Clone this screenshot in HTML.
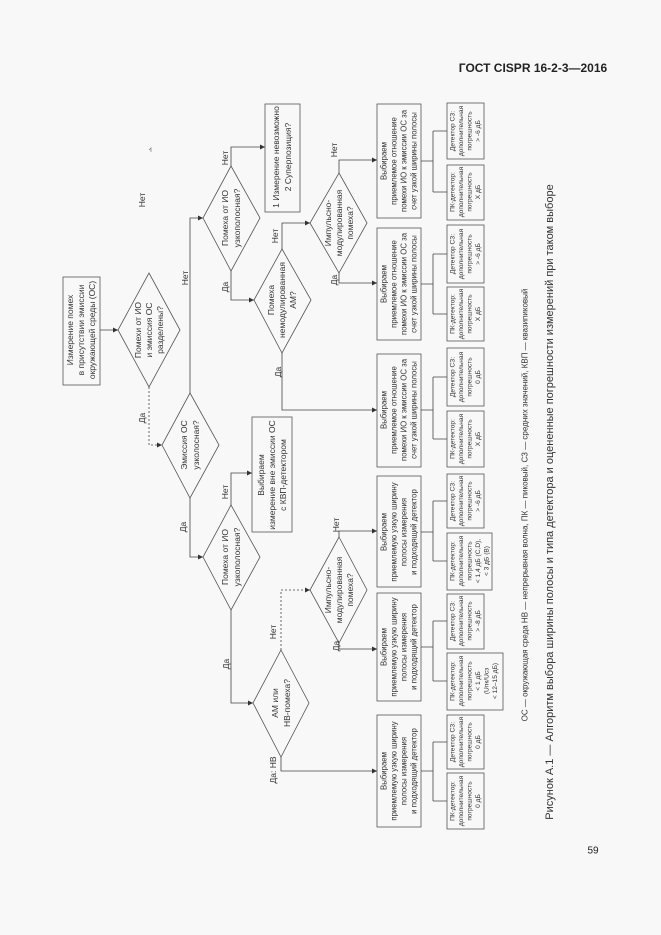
<!DOCTYPE html>
<html><head><meta charset="utf-8"><style>
html,body{margin:0;padding:0;background:#f8f8f8;}
svg{display:block}
text{font-family:"Liberation Sans",sans-serif;fill:#333;text-anchor:middle;dominant-baseline:central}
.t{font-size:8.5px}
.s{font-size:6.6px}
.l{font-size:8.5px}
</style></head><body>
<svg width="661" height="935" viewBox="0 0 661 935" xmlns="http://www.w3.org/2000/svg">
<defs><marker id="a" markerWidth="6" markerHeight="6" refX="5" refY="3" orient="auto" markerUnits="userSpaceOnUse"><path d="M0,0.5 L5,3 L0,5.5z" fill="#333"/></marker></defs>
<text x="533" y="68" style="font-size:12px;font-weight:bold;fill:#222">ГОСТ CISPR 16-2-3—2016</text>
<text x="593" y="851" style="font-size:10px;fill:#222">59</text>

<g fill="none" stroke="#555" stroke-width="0.8">
<rect x="63" y="277" width="37" height="108"/>
<rect x="265" y="104" width="35" height="108"/>
<rect x="252" y="417" width="40" height="115"/>
<rect x="377" y="104" width="44" height="114"/>
<rect x="377" y="228" width="44" height="112"/>
<rect x="377" y="354" width="44" height="113"/>
<rect x="377" y="476" width="44" height="111"/>
<rect x="377" y="593" width="44" height="108"/>
<rect x="377" y="715" width="44" height="112"/>
<rect x="447" y="103" width="37" height="56"/><rect x="447" y="165" width="37" height="55"/>
<rect x="447" y="225" width="37" height="58"/><rect x="447" y="287" width="37" height="54"/>
<rect x="447" y="348" width="37" height="58"/><rect x="447" y="411" width="37" height="56"/>
<rect x="447" y="474" width="37" height="54"/><rect x="447" y="533" width="45" height="57"/>
<rect x="447" y="594" width="37" height="55"/><rect x="447" y="653" width="56" height="57"/>
<rect x="447" y="715" width="37" height="54"/><rect x="447" y="773" width="37" height="56"/>
<path d="M149,273 L180,330 L149,387 L118,330z"/>
<path d="M190,393 L219,445 L190,498 L162,445z"/>
<path d="M231,166 L260,218 L231,271 L203,218z"/>
<path d="M282,249 L311,300 L282,353 L254,300z"/>
<path d="M339,173 L367,223 L339,273 L310,223z"/>
<path d="M231,505 L260,557 L231,610 L203,557z"/>
<path d="M281,650 L309,703 L281,757 L253,703z"/>
<path d="M339,537 L367,590 L339,643 L310,590z"/>
</g>

<g fill="none" stroke="#444" stroke-width="0.8">
<path d="M100,330 L118,330" marker-end="url(#a)"/>
<path d="M149,387 L149,445 L162,445" marker-end="url(#a)" stroke-dasharray="2,2"/>
<path d="M149,150 L151,148 L151,152" stroke="#888"/>
<path d="M190,393 L190,218 L203,218" marker-end="url(#a)"/>
<path d="M231,166 L231,147 L265,147" marker-end="url(#a)"/>
<path d="M231,271 L231,300 L254,300" marker-end="url(#a)"/>
<path d="M282,249 L282,223 L310,223" marker-end="url(#a)"/>
<path d="M339,173 L339,160 L377,160" marker-end="url(#a)"/>
<path d="M339,273 L339,283 L377,283" marker-end="url(#a)"/>
<path d="M282,353 L282,410 L377,410" marker-end="url(#a)"/>
<path d="M190,498 L190,557 L203,557" marker-end="url(#a)"/>
<path d="M231,505 L231,473 L252,473" marker-end="url(#a)"/>
<path d="M231,610 L231,703 L253,703" marker-end="url(#a)"/>
<path d="M281,650 L281,590 L310,590" marker-end="url(#a)" stroke-dasharray="2,2"/>
<path d="M339,537 L339,531 L377,531" marker-end="url(#a)"/>
<path d="M339,643 L339,649 L377,649" marker-end="url(#a)"/>
<path d="M281,757 L281,771 L377,771" marker-end="url(#a)"/>
<path d="M421,161 L433,161 M433,131 L433,192 M433,131 L447,131 M433,192 L447,192"/>
<path d="M421,284 L433,284 M433,254 L433,314 M433,254 L447,254 M433,314 L447,314"/>
<path d="M421,410 L433,410 M433,377 L433,439 M433,377 L447,377 M433,439 L447,439"/>
<path d="M421,532 L433,532 M433,501 L433,561 M433,501 L447,501 M433,561 L447,561"/>
<path d="M421,647 L433,647 M433,621 L433,681 M433,621 L447,621 M433,681 L447,681"/>
<path d="M421,771 L433,771 M433,742 L433,801 M433,742 L447,742 M433,801 L447,801"/>
</g>

<g class="t">
<text x="70" y="330" transform="rotate(-90 70 330)">Измерение помех</text>
<text x="81" y="330" transform="rotate(-90 81 330)">в присутствии эмиссии</text>
<text x="92" y="330" transform="rotate(-90 92 330)">окружающей среды (ОС)</text>
<text x="138" y="330" transform="rotate(-90 138 330)">Помехи от ИО</text>
<text x="149" y="330" transform="rotate(-90 149 330)">и эмиссия  ОС</text>
<text x="160" y="330" transform="rotate(-90 160 330)">разделены?</text>
<text x="184" y="445" transform="rotate(-90 184 445)">Эмиссия ОС</text>
<text x="196" y="445" transform="rotate(-90 196 445)">узколосная?</text>
<text x="225" y="218" transform="rotate(-90 225 218)">Помеха от ИО</text>
<text x="237" y="218" transform="rotate(-90 237 218)">узкополосная?</text>
<text x="271" y="300" transform="rotate(-90 271 300)">Помеха</text>
<text x="282" y="300" transform="rotate(-90 282 300)">немодулированная</text>
<text x="293" y="300" transform="rotate(-90 293 300)">АМ?</text>
<text x="328" y="223" transform="rotate(-90 328 223)">Импульсно-</text>
<text x="339" y="223" transform="rotate(-90 339 223)">модулированная</text>
<text x="350" y="223" transform="rotate(-90 350 223)">помеха?</text>
<text x="276" y="157" transform="rotate(-90 276 157)">1 Измерение невозможно</text>
<text x="288" y="157" transform="rotate(-90 288 157)">2 Суперпозиция?</text>
<text x="261" y="475" transform="rotate(-90 261 475)">Выбираем</text>
<text x="272" y="475" transform="rotate(-90 272 475)">измерение вне эмиссии ОС</text>
<text x="283" y="475" transform="rotate(-90 283 475)">с КВП-детектором</text>
<text x="225" y="557" transform="rotate(-90 225 557)">Помеха от ИО</text>
<text x="237" y="557" transform="rotate(-90 237 557)">узкополосная?</text>
<text x="275" y="703" transform="rotate(-90 275 703)">АМ или</text>
<text x="287" y="703" transform="rotate(-90 287 703)">НВ-помеха?</text>
<text x="328" y="590" transform="rotate(-90 328 590)">Импульсно-</text>
<text x="339" y="590" transform="rotate(-90 339 590)">модулированная</text>
<text x="350" y="590" transform="rotate(-90 350 590)">помеха?</text>
</g>

<g class="t" style="font-size:7.8px">
<text x="384" y="161" transform="rotate(-90 384 161)">Выбираем</text>
<text x="394" y="161" transform="rotate(-90 394 161)">приемлемое отношение</text>
<text x="404" y="161" transform="rotate(-90 404 161)">помехи ИО к эмиссии ОС за</text>
<text x="414" y="161" transform="rotate(-90 414 161)">счет узкой ширины полосы</text>
<text x="384" y="284" transform="rotate(-90 384 284)">Выбираем</text>
<text x="394" y="284" transform="rotate(-90 394 284)">приемлемое отношение</text>
<text x="404" y="284" transform="rotate(-90 404 284)">помехи ИО к эмиссии ОС за</text>
<text x="414" y="284" transform="rotate(-90 414 284)">счет узкой ширины полосы</text>
<text x="384" y="410" transform="rotate(-90 384 410)">Выбираем</text>
<text x="394" y="410" transform="rotate(-90 394 410)">приемлемое отношение</text>
<text x="404" y="410" transform="rotate(-90 404 410)">помехи ИО к эмиссии ОС за</text>
<text x="414" y="410" transform="rotate(-90 414 410)">счет узкой ширины полосы</text>
<text x="384" y="532" transform="rotate(-90 384 532)">Выбираем</text>
<text x="394" y="532" transform="rotate(-90 394 532)">приемлемую узкую ширину</text>
<text x="404" y="532" transform="rotate(-90 404 532)">полосы измерения</text>
<text x="414" y="532" transform="rotate(-90 414 532)">и подходящий детектор</text>
<text x="384" y="647" transform="rotate(-90 384 647)">Выбираем</text>
<text x="394" y="647" transform="rotate(-90 394 647)">приемлемую узкую ширину</text>
<text x="404" y="647" transform="rotate(-90 404 647)">полосы измерения</text>
<text x="414" y="647" transform="rotate(-90 414 647)">и подходящий детектор</text>
<text x="384" y="771" transform="rotate(-90 384 771)">Выбираем</text>
<text x="394" y="771" transform="rotate(-90 394 771)">приемлемую узкую ширину</text>
<text x="404" y="771" transform="rotate(-90 404 771)">полосы измерения</text>
<text x="414" y="771" transform="rotate(-90 414 771)">и подходящий детектор</text>
</g>

<g class="s">
<text x="453" y="131" transform="rotate(-90 453 131)">Детектор СЗ:</text>
<text x="461.5" y="131" transform="rotate(-90 461.5 131)">дополнительная</text>
<text x="470" y="131" transform="rotate(-90 470 131)">погрешность</text>
<text x="478.5" y="131" transform="rotate(-90 478.5 131)">&gt; -6 дБ</text>
<text x="453" y="192" transform="rotate(-90 453 192)">ПК-детектор:</text>
<text x="461.5" y="192" transform="rotate(-90 461.5 192)">дополнительная</text>
<text x="470" y="192" transform="rotate(-90 470 192)">погрешность</text>
<text x="478.5" y="192" transform="rotate(-90 478.5 192)">X дБ</text>
<text x="453" y="254" transform="rotate(-90 453 254)">Детектор СЗ:</text>
<text x="461.5" y="254" transform="rotate(-90 461.5 254)">дополнительная</text>
<text x="470" y="254" transform="rotate(-90 470 254)">погрешность</text>
<text x="478.5" y="254" transform="rotate(-90 478.5 254)">&gt; -6 дБ</text>
<text x="453" y="314" transform="rotate(-90 453 314)">ПК-детектор:</text>
<text x="461.5" y="314" transform="rotate(-90 461.5 314)">дополнительная</text>
<text x="470" y="314" transform="rotate(-90 470 314)">погрешность</text>
<text x="478.5" y="314" transform="rotate(-90 478.5 314)">X дБ</text>
<text x="453" y="377" transform="rotate(-90 453 377)">Детектор СЗ:</text>
<text x="461.5" y="377" transform="rotate(-90 461.5 377)">дополнительная</text>
<text x="470" y="377" transform="rotate(-90 470 377)">погрешность</text>
<text x="478.5" y="377" transform="rotate(-90 478.5 377)">0 дБ</text>
<text x="453" y="439" transform="rotate(-90 453 439)">ПК-детектор:</text>
<text x="461.5" y="439" transform="rotate(-90 461.5 439)">дополнительная</text>
<text x="470" y="439" transform="rotate(-90 470 439)">погрешность</text>
<text x="478.5" y="439" transform="rotate(-90 478.5 439)">X дБ</text>
<text x="453" y="501" transform="rotate(-90 453 501)">Детектор СЗ:</text>
<text x="461.5" y="501" transform="rotate(-90 461.5 501)">дополнительная</text>
<text x="470" y="501" transform="rotate(-90 470 501)">погрешность</text>
<text x="478.5" y="501" transform="rotate(-90 478.5 501)">&gt; -6 дБ</text>
<text x="453" y="561" transform="rotate(-90 453 561)">ПК-детектор:</text>
<text x="461.5" y="561" transform="rotate(-90 461.5 561)">дополнительная</text>
<text x="470" y="561" transform="rotate(-90 470 561)">погрешность</text>
<text x="478.5" y="561" transform="rotate(-90 478.5 561)">&lt; 1,4 дБ (C,D),</text>
<text x="487" y="561" transform="rotate(-90 487 561)">&lt; 3 дБ (B)</text>
<text x="453" y="621" transform="rotate(-90 453 621)">Детектор СЗ:</text>
<text x="461.5" y="621" transform="rotate(-90 461.5 621)">дополнительная</text>
<text x="470" y="621" transform="rotate(-90 470 621)">погрешность</text>
<text x="478.5" y="621" transform="rotate(-90 478.5 621)">&gt; -8 дБ</text>
<text x="453" y="681" transform="rotate(-90 453 681)">ПК-детектор:</text>
<text x="461.5" y="681" transform="rotate(-90 461.5 681)">дополнительная</text>
<text x="470" y="681" transform="rotate(-90 470 681)">погрешность</text>
<text x="478.5" y="681" transform="rotate(-90 478.5 681)">&lt; 1 дБ</text>
<text x="487" y="681" transform="rotate(-90 487 681)">(Uпк/Uсз</text>
<text x="495.5" y="681" transform="rotate(-90 495.5 681)">&lt; 12–15 дБ)</text>
<text x="453" y="742" transform="rotate(-90 453 742)">Детектор СЗ:</text>
<text x="461.5" y="742" transform="rotate(-90 461.5 742)">дополнительная</text>
<text x="470" y="742" transform="rotate(-90 470 742)">погрешность</text>
<text x="478.5" y="742" transform="rotate(-90 478.5 742)">0 дБ</text>
<text x="453" y="801" transform="rotate(-90 453 801)">ПК-детектор:</text>
<text x="461.5" y="801" transform="rotate(-90 461.5 801)">дополнительная</text>
<text x="470" y="801" transform="rotate(-90 470 801)">погрешность</text>
<text x="478.5" y="801" transform="rotate(-90 478.5 801)">0 дБ</text>
</g>

<g class="l">
<text x="142" y="200" transform="rotate(-90 142 200)">Нет</text>
<text x="142" y="418" transform="rotate(-90 142 418)">Да</text>
<text x="185" y="278" transform="rotate(-90 185 278)">Нет</text>
<text x="225" y="158" transform="rotate(-90 225 158)">Нет</text>
<text x="225" y="287" transform="rotate(-90 225 287)">Да</text>
<text x="275" y="236" transform="rotate(-90 275 236)">Нет</text>
<text x="278" y="372" transform="rotate(-90 278 372)">Да</text>
<text x="334" y="150" transform="rotate(-90 334 150)">Нет</text>
<text x="334" y="280" transform="rotate(-90 334 280)">Да</text>
<text x="183" y="527" transform="rotate(-90 183 527)">Да</text>
<text x="225" y="492" transform="rotate(-90 225 492)">Нет</text>
<text x="226" y="664" transform="rotate(-90 226 664)">Да</text>
<text x="273" y="632" transform="rotate(-90 273 632)">Нет</text>
<text x="273" y="770" transform="rotate(-90 273 770)">Да: НВ</text>
<text x="336" y="525" transform="rotate(-90 336 525)">Нет</text>
<text x="336" y="646" transform="rotate(-90 336 646)">Да</text>
</g>

<text x="525" y="505" transform="rotate(-90 525 505)" style="font-size:8px">ОС — окружающая среда  НВ — непрерывная волна, ПК — пиковый, СЗ — средних значений, КВП — квазипиковый</text>
<text x="550" y="502" transform="rotate(-90 550 502)" style="font-size:11px">Рисунок А.1 — Алгоритм выбора ширины полосы и типа детектора и оцененные погрешности измерений при таком выборе</text>
</svg>
</body></html>
